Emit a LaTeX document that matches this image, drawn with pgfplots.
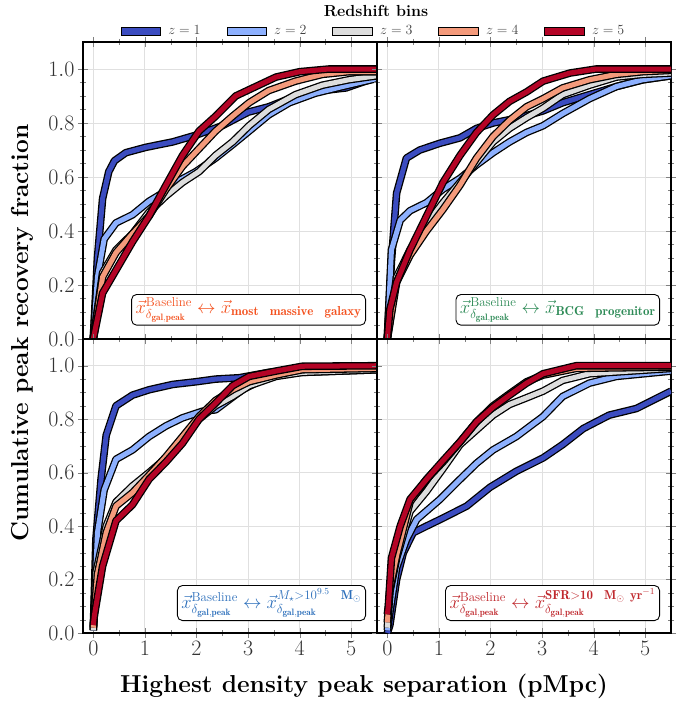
\documentclass[border=0pt]{standalone}
\usepackage{fix-cm}
\usepackage{amsmath}
\usepackage{fontspec}
\usepackage{pgfplots}
\usepackage{pgfplotstable}
\pgfplotsset{compat=1.18}

\definecolor{zc1}{HTML}{3B4CC0}
\definecolor{zc2}{HTML}{8DB0FE}
\definecolor{zc3}{HTML}{DDDDDD}
\definecolor{zc4}{HTML}{F49A7B}
\definecolor{zc5}{HTML}{B40426}
\definecolor{annTL}{HTML}{F4511E}
\definecolor{annTR}{HTML}{2E8B57}
\definecolor{annBL}{HTML}{2C6FBB}
\definecolor{annBR}{HTML}{C0282D}

% ---------- data: top left (most massive galaxy)
\pgfplotstableread{
x y
0 0
0.08 0.30
0.18 0.52
0.3 0.62
0.41 0.66
0.63 0.69
1.02 0.71
1.54 0.73
1.99 0.755
2.5 0.79
3.0 0.84
3.4 0.86
4.0 0.905
4.44 0.92
4.9 0.93
5.5 0.97
}\tTLa
\pgfplotstableread{
x y
0 0
0.08 0.23
0.21 0.37
0.44 0.43
0.76 0.46
1.08 0.51
1.34 0.54
1.6 0.58
1.99 0.62
2.37 0.67
2.7 0.72
3.02 0.77
3.4 0.83
3.8 0.875
4.3 0.91
4.83 0.935
5.5 0.965
}\tTLb
\pgfplotstableread{
x y
0 0
0.18 0.245
0.44 0.33
0.76 0.39
1.08 0.47
1.41 0.53
1.73 0.58
2.05 0.62
2.37 0.68
2.7 0.73
3.02 0.79
3.4 0.85
3.92 0.905
4.44 0.94
4.95 0.96
5.5 0.975
}\tTLc
\pgfplotstableread{
x y
0 0
0.18 0.23
0.44 0.32
0.76 0.39
1.08 0.455
1.41 0.555
1.73 0.64
2.05 0.705
2.37 0.77
2.7 0.825
3.02 0.875
3.4 0.92
3.92 0.955
4.44 0.98
4.95 0.99
5.5 0.99
}\tTLd
\pgfplotstableread{
x y
0 0
0.18 0.17
0.44 0.255
0.76 0.36
1.08 0.455
1.41 0.57
1.73 0.68
2.05 0.77
2.37 0.825
2.76 0.9
3.15 0.935
3.54 0.97
4.0 0.99
4.57 1.0
5.5 1.0
}\tTLe
% ---------- data: top right (BCG progenitor)
\pgfplotstableread{
x y
0 0
0.08 0.29
0.18 0.54
0.37 0.67
0.63 0.70
1.02 0.725
1.41 0.745
1.73 0.78
2.05 0.80
2.57 0.82
3.02 0.845
3.4 0.875
3.92 0.905
4.44 0.935
4.95 0.96
5.5 0.975
}\tTRa
\pgfplotstableread{
x y
0 0
0.08 0.33
0.25 0.44
0.44 0.475
0.76 0.505
1.08 0.555
1.41 0.595
1.73 0.645
2.05 0.69
2.37 0.73
2.7 0.765
3.02 0.79
3.4 0.835
3.92 0.89
4.44 0.935
4.95 0.96
5.5 0.975
}\tTRb
\pgfplotstableread{
x y
0 0
0.18 0.23
0.44 0.33
0.76 0.425
1.08 0.505
1.41 0.58
1.73 0.655
2.05 0.73
2.37 0.78
2.7 0.82
3.02 0.855
3.4 0.905
3.92 0.94
4.44 0.97
4.95 0.98
5.5 0.985
}\tTRc
\pgfplotstableread{
x y
0 0
0.18 0.21
0.44 0.31
0.76 0.40
1.08 0.48
1.41 0.57
1.73 0.67
2.05 0.75
2.37 0.81
2.7 0.86
3.02 0.89
3.4 0.93
3.92 0.96
4.44 0.98
4.95 0.99
5.5 0.995
}\tTRd
\pgfplotstableread{
x y
0 0
0.05 0.11
0.18 0.21
0.44 0.33
0.76 0.455
1.08 0.58
1.41 0.68
1.73 0.765
2.05 0.83
2.37 0.88
2.7 0.915
3.02 0.955
3.54 0.985
4.05 1.0
5.5 1.0
}\tTRe
% ---------- data: bottom left (stellar mass)
\pgfplotstableread{
x y
0 0.01
0.05 0.35
0.15 0.575
0.25 0.74
0.44 0.85
0.76 0.89
1.08 0.91
1.54 0.93
1.99 0.94
2.37 0.95
2.83 0.955
3.4 0.975
4.0 0.985
5.5 0.99
}\tBLa
\pgfplotstableread{
x y
0 0.01
0.08 0.375
0.21 0.535
0.44 0.65
0.76 0.685
1.08 0.735
1.41 0.775
1.73 0.805
2.12 0.83
2.37 0.835
2.89 0.91
3.4 0.96
4.0 0.975
5.5 0.985
}\tBLb
\pgfplotstableread{
x y
0 0.01
0.05 0.225
0.25 0.40
0.44 0.49
0.76 0.55
1.08 0.60
1.41 0.655
1.73 0.725
2.05 0.80
2.37 0.85
2.7 0.885
3.02 0.925
3.54 0.96
4.05 0.975
5.5 0.985
}\tBLc
\pgfplotstableread{
x y
0 0.02
0.08 0.22
0.25 0.375
0.44 0.475
0.76 0.525
1.08 0.59
1.41 0.66
1.73 0.735
2.05 0.81
2.37 0.87
2.7 0.91
3.02 0.94
3.54 0.965
4.05 0.985
5.5 0.99
}\tBLd
\pgfplotstableread{
x y
0 0.03
0.02 0.065
0.18 0.25
0.44 0.42
0.76 0.48
1.08 0.575
1.41 0.64
1.73 0.71
2.05 0.80
2.37 0.86
2.7 0.925
3.02 0.96
3.54 0.98
4.05 0.998
5.5 1.0
}\tBLe
% ---------- data: bottom right (SFR)
\pgfplotstableread{
x y
0 0
0.05 0.03
0.18 0.20
0.31 0.30
0.5 0.375
0.76 0.40
1.08 0.43
1.54 0.475
1.99 0.545
2.5 0.605
3.02 0.655
3.4 0.705
3.8 0.765
4.3 0.815
4.83 0.84
5.5 0.905
}\tBRa
\pgfplotstableread{
x y
0 0.01
0.05 0.08
0.18 0.245
0.37 0.35
0.57 0.425
1.02 0.50
1.41 0.575
1.73 0.635
2.05 0.685
2.5 0.735
3.02 0.81
3.4 0.885
3.92 0.935
4.44 0.96
5.5 0.98
}\tBRb
\pgfplotstableread{
x y
0 0.02
0.05 0.155
0.18 0.28
0.44 0.455
0.76 0.53
1.08 0.615
1.41 0.705
1.73 0.76
2.05 0.815
2.37 0.855
2.7 0.88
3.02 0.905
3.4 0.945
3.92 0.97
5.5 0.99
}\tBRc
\pgfplotstableread{
x y
0 0.04
0.05 0.165
0.18 0.29
0.44 0.49
0.76 0.575
1.08 0.64
1.41 0.715
1.73 0.79
2.05 0.85
2.37 0.895
2.7 0.94
3.02 0.965
3.66 0.99
5.5 0.995
}\tBRd
\pgfplotstableread{
x y
0 0.07
0.02 0.10
0.08 0.28
0.25 0.40
0.44 0.50
0.76 0.575
1.08 0.645
1.41 0.715
1.73 0.79
2.05 0.845
2.37 0.89
2.7 0.935
3.02 0.97
3.66 1.0
5.5 1.0
}\tBRe

\pgfplotsset{
  panel/.style={
    scale only axis, width=294pt,
    xmin=-0.2, xmax=5.5, ymin=0, ymax=1.1,
    xtick={0,1,2,3,4,5}, ytick={0,0.2,0.4,0.6,0.8,1.0},
    minor x tick num=1, minor y tick num=3,
    tick align=center, major tick length=10pt, minor tick length=6pt,
    grid=major, major grid style={line width=0.8pt, black!12},
    axis line style={line width=1.6pt},
    tick label style={font=\fontsize{22}{26}\selectfont, text=black!80},
    yticklabel style={/pgf/number format/fixed, /pgf/number format/fixed zerofill, /pgf/number format/precision=1},
  },
  zout/.style={black, line width=7.6pt, line join=round, forget plot},
  zin/.style={#1, line width=5pt, line join=round, forget plot},
}
\tikzset{annbox/.style={draw=black, fill=white, rounded corners=5pt, line width=0.9pt, inner xsep=4pt, inner ysep=3pt, anchor=south east, font=\fontsize{18.5}{22}\selectfont}}

\newcommand{\zplot}[2]{%
  \addplot[zout] table[x=x,y=y] {#2};
  \addplot[zin=#1] table[x=x,y=y] {#2};
}

\begin{document}
\begin{tikzpicture}
% ---------------- Top left
\begin{axis}[panel, height=297pt, at={(83pt,-42pt)}, anchor=north west,
  xticklabels={},
  legend style={at={(0.988,1.037)}, anchor=center, draw=none, fill=none,
    legend columns=5, font=\fontsize{14}{17}\selectfont, text=black!75,
    /tikz/every odd column/.append style={column sep=6pt},
    /tikz/every even column/.append style={column sep=24pt}},
  legend image post style={xscale=2.3, yscale=1.4},
]
\addlegendimage{area legend, fill=zc1, draw=black}\addlegendentry{$z = 1$}
\addlegendimage{area legend, fill=zc2, draw=black}\addlegendentry{$z = 2$}
\addlegendimage{area legend, fill=zc3, draw=black}\addlegendentry{$z = 3$}
\addlegendimage{area legend, fill=zc4, draw=black}\addlegendentry{$z = 4$}
\addlegendimage{area legend, fill=zc5, draw=black}\addlegendentry{$z = 5$}
\zplot{zc1}{\tTLa}
\zplot{zc2}{\tTLb}
\zplot{zc3}{\tTLc}
\zplot{zc4}{\tTLd}
\zplot{zc5}{\tTLe}
\end{axis}
% ---------------- Top right
\begin{axis}[panel, height=297pt, at={(377pt,-42pt)}, anchor=north west,
  xticklabels={}, yticklabels={}]
\zplot{zc1}{\tTRa}
\zplot{zc2}{\tTRb}
\zplot{zc3}{\tTRc}
\zplot{zc4}{\tTRd}
\zplot{zc5}{\tTRe}
\end{axis}
% ---------------- Bottom left
\begin{axis}[panel, height=294pt, at={(83pt,-339pt)}, anchor=north west]
\zplot{zc1}{\tBLa}
\zplot{zc2}{\tBLb}
\zplot{zc3}{\tBLc}
\zplot{zc4}{\tBLd}
\zplot{zc5}{\tBLe}
\end{axis}
% ---------------- Bottom right
\begin{axis}[panel, height=294pt, at={(377pt,-339pt)}, anchor=north west, yticklabels={}]
\zplot{zc1}{\tBRa}
\zplot{zc2}{\tBRb}
\zplot{zc3}{\tBRc}
\zplot{zc4}{\tBRd}
\zplot{zc5}{\tBRe}
\end{axis}
% ---------------- annotation boxes
\node[annbox, text=annTL] at (366pt,-325.6pt) {$\vec{x}^{\mathrm{Baseline}}_{\delta_{\mathbf{gal,peak}}} \leftrightarrow \vec{x}_{\mathbf{most~~massive~~galaxy}}$};
\node[annbox, text=annTR] at (660pt,-325.6pt) {$\vec{x}^{\mathrm{Baseline}}_{\delta_{\mathbf{gal,peak}}} \leftrightarrow \vec{x}_{\mathbf{BCG~~progenitor}}$};
\node[annbox, text=annBL] at (366pt,-621pt) {$\vec{x}^{\mathrm{Baseline}}_{\delta_{\mathbf{gal,peak}}} \leftrightarrow \vec{x}^{M_\star>10^{9.5}~~\mathbf{M}_\odot}_{\delta_{\mathbf{gal,peak}}}$};
\node[annbox, text=annBR] at (660pt,-621pt) {$\vec{x}^{\mathrm{Baseline}}_{\delta_{\mathbf{gal,peak}}} \leftrightarrow \vec{x}^{\mathbf{SFR}>\mathbf{10~~M}_\odot~\mathbf{yr}^{-1}}_{\delta_{\mathbf{gal,peak}}}$};
% ---------------- labels
\node[font=\bfseries\fontsize{16}{19}\selectfont] at (376pt,-11pt) {Redshift bins};
\node[rotate=90, font=\bfseries\fontsize{24.5}{29}\selectfont] at (22pt,-333pt) {Cumulative peak recovery fraction};
\node[font=\bfseries\fontsize{24.5}{29}\selectfont] at (364pt,-686pt) {Highest density peak separation (pMpc)};
\pgfresetboundingbox
\path[use as bounding box] (0,0) rectangle (689pt,-704pt);
\end{tikzpicture}
\end{document}
